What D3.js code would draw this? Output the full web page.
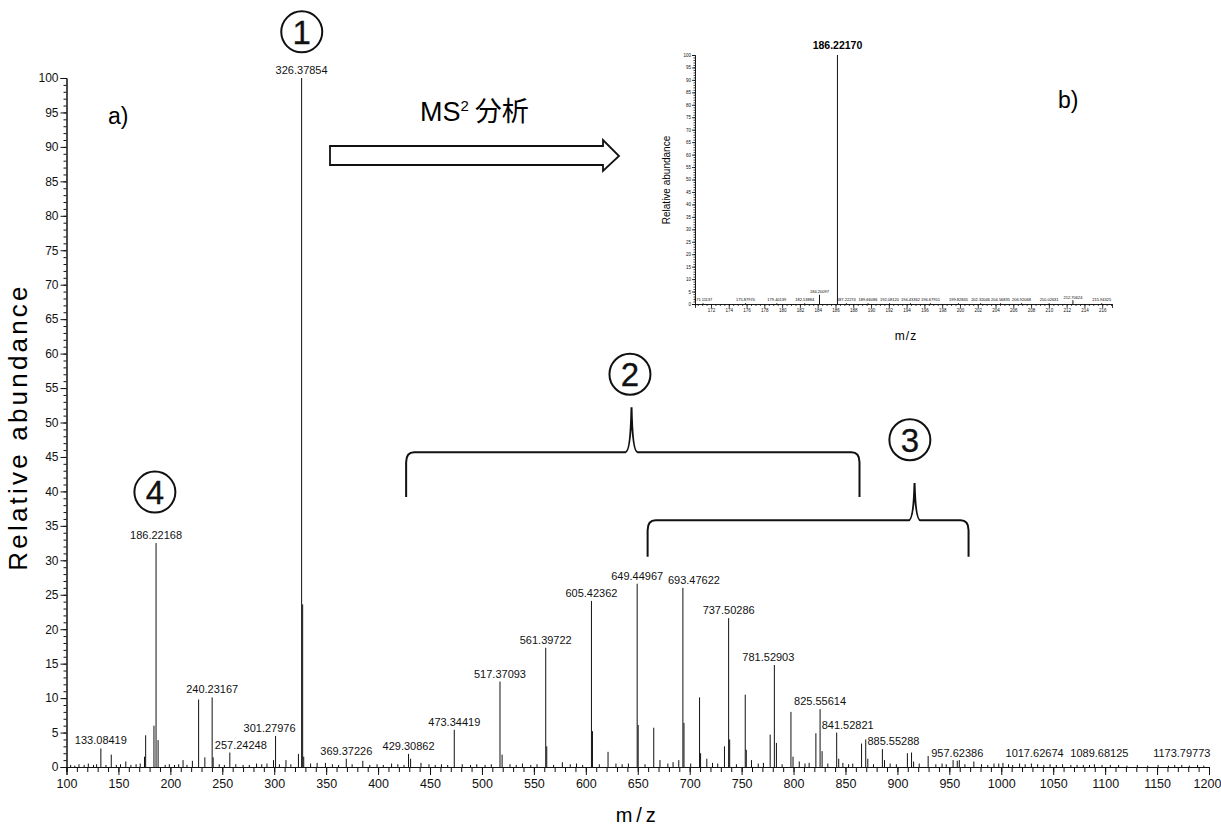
<!DOCTYPE html>
<html>
<head>
  <meta charset="utf-8">
  <title>MS spectrum</title>
  <style>
    body { margin: 0; background: white; font-family: "Liberation Sans", Arial, sans-serif; }
    .axis path, .axis line { stroke: #111; }
    .axis text { fill: #111; font-family: "Liberation Sans", Arial, sans-serif; }
    .peak { stroke: #111; stroke-width: 1; }
    .plabel { font-size: 11px; fill: #111; text-anchor: middle; }
    .ring { fill: none; stroke: #111; stroke-width: 2; }
    .num { font-size: 33px; text-anchor: middle; fill: #111; stroke: #111; stroke-width: 0.3; }
  </style>
</head>
<body>
  <div id="chart"></div>
  <script src="https://d3js.org/d3.v7.min.js"></script>
  <script>
    // main spectrum: labelled peaks [m/z, relative abundance]
    var labelledPeaks = [
      [133.08419, 2.7], [186.22168, 32.5], [240.23167, 10.1], [257.24248, 2.1],
      [301.27976, 4.5], [326.37854, 100], [369.37226, 1.2], [429.30862, 1.9],
      [473.34419, 5.4], [517.37093, 12.4], [561.39722, 17.3], [605.42362, 24.1],
      [649.44967, 26.6], [693.47622, 26.0], [737.50286, 21.6], [781.52903, 14.8],
      [825.55614, 8.4], [841.52821, 5.0], [885.55288, 2.6], [957.62386, 0.9],
      [1017.62674, 0.5], [1089.68125, 0.4], [1173.79773, 0.3]
    ]

    // unlabelled peaks
    var otherPeaks = [
      [143.1, 1.8], [157.1, 0.8], [175.1, 1.5], [176.2, 4.6], [184.2, 6.0], [188.2, 3.9],
      [212.2, 1.0], [221.2, 0.9], [227.2, 9.8], [233.2, 1.4], [241.2, 1.4], [299.3, 1.0],
      [311.3, 1.0], [323.3, 1.9], [327.38, 23.6], [328.4, 1.5], [341.3, 0.6], [349.3, 0.6],
      [385.3, 0.9], [431.3, 1.2], [441.3, 0.6], [519.4, 1.8], [562.4, 3.0], [577.4, 0.7],
      [606.4, 5.2], [621.4, 2.2], [650.4, 6.1], [665.4, 5.7], [671.4, 1.0], [689.5, 1.0],
      [694.5, 6.4], [709.5, 10.1], [710.5, 2.0], [716.5, 1.2], [733.5, 3.0], [738.5, 4.0],
      [753.5, 10.5], [754.5, 2.5], [759.5, 1.0], [777.5, 4.7], [783.5, 3.5], [797.5, 8.0],
      [799.5, 1.5], [805.5, 0.8], [821.5, 4.9], [827.5, 2.3], [843.5, 1.2], [847.5, 0.6],
      [865.5, 3.4], [869.5, 4.0], [871.5, 1.2], [887.6, 1.0], [909.6, 2.0], [913.6, 2.1],
      [915.6, 0.8], [929.6, 1.6], [953.6, 1.0], [959.6, 1.0], [973.6, 0.8], [997.6, 0.5],
      [1001.6, 0.6]
    ]

    // baseline grass, estimated
    var noisePeaks = [
      [104, 0.3], [108, 0.2], [112, 0.4], [117, 0.3], [121, 0.5], [126, 0.3], [129, 0.4],
      [138, 0.3], [148, 0.3], [152, 0.4], [162, 0.3], [167, 0.4], [171, 0.5], [195, 0.3],
      [199, 0.4], [204, 0.3], [208, 0.4], [216, 0.3], [247, 0.4], [252, 0.3], [263, 0.4],
      [270, 0.3], [276, 0.3], [283, 0.5], [288, 0.4], [293, 0.5], [305, 0.4], [316, 0.4],
      [335, 0.5], [356, 0.4], [362, 0.3], [375, 0.4], [392, 0.3], [399, 0.4], [405, 0.3],
      [413, 0.5], [419, 0.4], [425, 0.3], [449, 0.4], [455, 0.3], [461, 0.4], [467, 0.3],
      [481, 0.4], [489, 0.3], [495, 0.4], [503, 0.3], [509, 0.4], [527, 0.4], [533, 0.3],
      [539, 0.5], [547, 0.3], [553, 0.4], [569, 0.3], [585, 0.4], [591, 0.5], [597, 0.3],
      [613, 0.4], [629, 0.5], [635, 0.4], [641, 0.5], [657, 0.4], [679, 0.5], [684, 0.7],
      [701, 0.5], [722, 0.6], [727, 0.5], [745, 0.4], [766, 0.5], [771, 0.6], [789, 0.4],
      [811, 0.5], [815, 0.6], [833, 0.5], [853, 0.4], [857, 0.5], [877, 0.4], [893, 0.5],
      [899, 0.4], [921, 0.5], [937, 0.4], [943, 0.5], [947, 0.4], [965, 0.4], [981, 0.4],
      [987, 0.3], [993, 0.5], [1007, 0.4], [1011, 0.3], [1023, 0.4], [1029, 0.5], [1035, 0.4],
      [1041, 0.3], [1047, 0.4], [1053, 0.3], [1059, 0.4], [1067, 0.3], [1073, 0.3], [1079, 0.3],
      [1085, 0.3], [1097, 0.3], [1105, 0.3], [1113, 0.3], [1121, 0.2], [1131, 0.3], [1141, 0.2],
      [1151, 0.3], [1161, 0.2], [1167, 0.3], [1181, 0.2], [1189, 0.3], [1195, 0.2]
    ]

    var xTicks = d3.range(100, 1201, 50)
    var yTicks = d3.range(0, 101, 5)

    // MS2 inset spectrum
    var insetLabelled = [
      [171.11137, 0.3], [175.87970, 0.3], [179.40139, 0.3], [182.53884, 0.3],
      [184.20097, 3.7], [186.22170, 100], [187.22274, 0.3], [189.66086, 0.3],
      [192.08120, 0.3], [194.43362, 0.3], [196.67951, 0.3], [199.82845, 0.3],
      [202.32046, 0.3], [204.56835, 0.3], [206.92068, 0.3], [210.02631, 0.3],
      [212.70624, 1.5], [215.94325, 0.3]
    ]
    var insetXTicks = d3.range(172, 217, 2)
    var insetYTicks = d3.range(0, 101, 5)

    // annotations: circled numbers [label, m/z, abundance]
    var circled = [["1", 326.5, 106.7], ["2", 642.5, 57.0], ["3", 912, 47.5], ["4", 185.1, 39.9]]
    // brackets [left m/z, apex m/z, right m/z, end level, bar level, apex level]
    var brackets = [[427, 644, 863.5, 39.2, 45.7, 52.2], [659.5, 916.5, 968.5, 30.5, 35.8, 41.2]]

    var width = 1221, height = 828

    var svg = d3.select("#chart").append("svg")
      .attr("width", width)
      .attr("height", height)

    var x = d3.scaleLinear().domain([100, 1200]).range([66.5, 1209])
    var y = d3.scaleLinear().domain([0, 100]).range([767, 78])

    // minor ticks first, then the labelled axis
    svg.append("g").attr("class", "axis")
      .attr("transform", "translate(0," + y(0) + ")")
      .call(d3.axisBottom(x).tickValues(d3.range(100, 1201, 10)).tickSize(5).tickFormat(""))
    var xAxis = svg.append("g").attr("class", "axis")
      .attr("transform", "translate(0," + y(0) + ")")
      .call(d3.axisBottom(x).tickValues(xTicks).tickSize(8).tickPadding(4).tickFormat(d3.format("d")))
    xAxis.selectAll("text").style("font-size", "12.5px")
      .attr("dx", function(d) { return d === 1200 ? -2 : 0 })

    svg.append("g").attr("class", "axis")
      .attr("transform", "translate(" + x(100) + ",0)")
      .call(d3.axisLeft(y).tickValues(d3.range(0, 101, 1)).tickSize(3).tickFormat(""))
    svg.append("g").attr("class", "axis")
      .attr("transform", "translate(" + x(100) + ",0)")
      .call(d3.axisLeft(y).tickValues(yTicks).tickSize(6).tickPadding(2))
      .selectAll("text").style("font-size", "12px")

    // peaks
    var allPeaks = noisePeaks.concat(otherPeaks, labelledPeaks)
    svg.append("g").selectAll("line")
      .data(allPeaks)
      .enter().append("line")
      .attr("class", "peak")
      .attr("x1", function(d) { return x(d[0]) })
      .attr("x2", function(d) { return x(d[0]) })
      .attr("y1", y(0))
      .attr("y2", function(d) { return y(d[1]) })

    // some labels were nudged sideways in the original
    var nudge = { "257.24248": 11, "301.27976": -6, "693.47622": 11, "781.52903": -6,
      "841.52821": 11, "885.55288": 11, "1017.62674": 15, "1089.68125": 5 }

    svg.append("g").selectAll("text")
      .data(labelledPeaks)
      .enter().append("text")
      .attr("class", "plabel")
      .attr("x", function(d) { return x(d[0]) + (nudge[d[0].toFixed(5)] || 0) })
      .attr("y", function(d) { return Math.min(y(d[1]), y(0) - 6) - 4 })
      .text(function(d) { return d[0].toFixed(5) })

    // axis titles
    svg.append("text")
      .attr("transform", "translate(27," + 427 + ") rotate(-90)")
      .attr("text-anchor", "middle")
      .style("font-size", "26px")
      .style("letter-spacing", "3.2px")
      .text("Relative abundance")

    svg.append("text")
      .attr("x", x(650)).attr("y", 822)
      .attr("text-anchor", "middle")
      .style("font-size", "20px")
      .style("letter-spacing", "4px")
      .text("m/z")

    svg.append("text").attr("x", 108).attr("y", 124).style("font-size", "23px").text("a)")
    svg.append("text").attr("x", 1058).attr("y", 108).style("font-size", "23px").text("b)")

    // MS2 arrow
    svg.append("text")
      .attr("x", 420).attr("y", 121)
      .style("font-size", "27px")
      .html('MS<tspan dy="-10" style="font-size:15px">2</tspan><tspan dy="10" dx="6" style="font-family:\'Noto Sans CJK JP\'">分析</tspan>')

    svg.append("path")
      .attr("d", "M330,146 L603,146 L603,140 L619,156 L603,171 L603,165 L330,165 Z")
      .attr("fill", "white").attr("stroke", "#111").attr("stroke-width", 1.8)

    // brackets
    brackets.forEach(function(b) {
      var l = x(b[0]), a = x(b[1]), r = x(b[2])
      var yEnd = y(b[3]), yBar = y(b[4]), yTop = y(b[5])
      var p = d3.path()
      p.moveTo(l, yEnd)
      p.lineTo(l, yBar + 10)
      p.quadraticCurveTo(l, yBar, l + 8, yBar)
      p.lineTo(a - 6, yBar)
      p.quadraticCurveTo(a - 1, yBar, a, yTop)
      p.quadraticCurveTo(a + 1, yBar, a + 6, yBar)
      p.lineTo(r - 8, yBar)
      p.quadraticCurveTo(r, yBar, r, yBar + 10)
      p.lineTo(r, yEnd)
      svg.append("path").attr("d", p.toString())
        .attr("fill", "none").attr("stroke", "#111").attr("stroke-width", 2)
    })

    // circled numbers
    var rings = svg.append("g").selectAll("g")
      .data(circled)
      .enter().append("g")
      .attr("transform", function(d) { return "translate(" + x(d[1]) + "," + y(d[2]) + ")" })
    rings.append("circle").attr("class", "ring").attr("r", 20.5)
    rings.append("text").attr("class", "num").attr("y", 12).text(function(d) { return d[0] })

    // inset
    var ix = d3.scaleLinear().domain([170.2, 217.1]).range([695, 1112])
    var iy = d3.scaleLinear().domain([0, 100]).range([304, 55])
    var inset = svg.append("g")

    inset.append("g").attr("class", "axis")
      .attr("transform", "translate(0," + iy(0) + ")")
      .call(d3.axisBottom(ix).tickValues(d3.range(170.5, 217.1, 0.5)).tickSize(2).tickFormat(""))
    inset.append("g").attr("class", "axis")
      .attr("transform", "translate(0," + iy(0) + ")")
      .call(d3.axisBottom(ix).tickValues(insetXTicks).tickSize(4).tickPadding(1))
      .selectAll("text").style("font-size", "4.5px")
    inset.append("g").attr("class", "axis")
      .attr("transform", "translate(" + ix.range()[0] + ",0)")
      .call(d3.axisLeft(iy).tickValues(d3.range(0, 101, 1)).tickSize(1.5).tickFormat(""))
    inset.append("g").attr("class", "axis")
      .attr("transform", "translate(" + ix.range()[0] + ",0)")
      .call(d3.axisLeft(iy).tickValues(insetYTicks).tickSize(3).tickPadding(1))
      .selectAll("text").style("font-size", "4.5px")

    inset.selectAll(".axis path, .axis line").attr("stroke-width", 0.8)

    inset.append("g").selectAll("line")
      .data(insetLabelled)
      .enter().append("line")
      .attr("class", "peak")
      .attr("x1", function(d) { return ix(d[0]) })
      .attr("x2", function(d) { return ix(d[0]) })
      .attr("y1", iy(0))
      .attr("y2", function(d) { return iy(d[1]) })

    inset.append("g").selectAll("text")
      .data(insetLabelled)
      .enter().append("text")
      .attr("x", function(d) { return ix(d[0]) })
      .attr("y", function(d) { return d[1] > 50 ? iy(d[1]) - 6 : Math.min(iy(d[1]), iy(0) - 2) - 1.5 })
      .attr("text-anchor", "middle")
      .style("font-size", function(d) { return d[1] > 50 ? "10.5px" : "4px" })
      .style("font-weight", function(d) { return d[1] > 50 ? "bold" : "normal" })
      .text(function(d) { return d[0].toFixed(5) })

    inset.append("text")
      .attr("transform", "translate(670,180) rotate(-90)")
      .attr("text-anchor", "middle")
      .style("font-size", "10px")
      .text("Relative abundance")

    inset.append("text")
      .attr("x", 906).attr("y", 340)
      .attr("text-anchor", "middle")
      .style("font-size", "12px")
      .style("letter-spacing", "1px")
      .text("m/z")
  </script>
</body>
</html>
